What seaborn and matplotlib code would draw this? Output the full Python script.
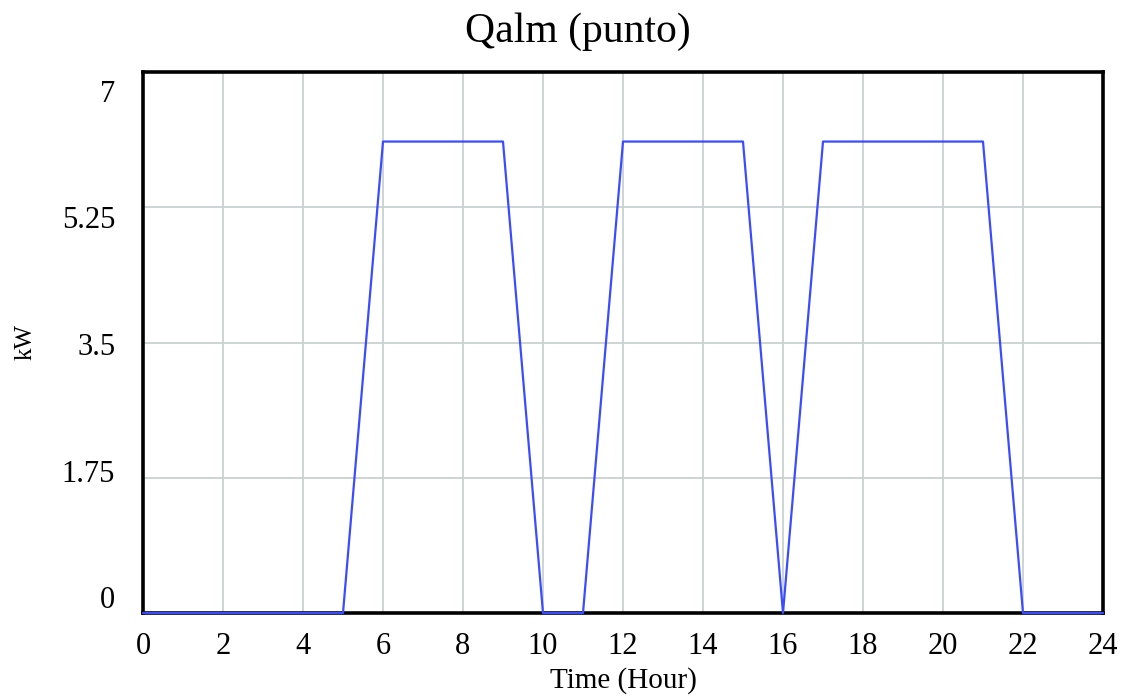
# %%
# Import libraries
import matplotlib
matplotlib.use('Agg')
from matplotlib import pyplot as plt
from matplotlib.transforms import ScaledTranslation
import seaborn as sns
import numpy as np

# %%
# Data (hourly values, kW)
hours = [0, 1, 2, 3, 4, 5, 6, 7, 8, 9, 10, 11, 12,
         13, 14, 15, 16, 17, 18, 19, 20, 21, 22, 23, 24]
qalm = [0, 0, 0, 0, 0, 0, 6.1, 6.1, 6.1, 6.1, 0, 0, 6.1,
        6.1, 6.1, 6.1, 0, 6.1, 6.1, 6.1, 6.1, 6.1, 0, 0, 0]
x_ticks = [0, 2, 4, 6, 8, 10, 12, 14, 16, 18, 20, 22, 24]
y_ticks = [0, 1.75, 3.5, 5.25, 7]
y_labels = ['0', '1.75', '3.5', '5.25', '7']

# %%
sns.set_style('white')
plt.rcParams['font.family'] = ['Liberation Serif', 'DejaVu Serif']
plt.rcParams['text.color'] = 'black'
plt.rcParams['axes.labelcolor'] = 'black'
plt.rcParams['xtick.color'] = 'black'
plt.rcParams['ytick.color'] = 'black'

fig = plt.figure(figsize=(11.26, 7), dpi=100)
ax = fig.add_axes([143/1126, 87/700, 960/1126, 541/700])

# grid first, then the line on top
ax.set_xticks(x_ticks)
ax.set_yticks(y_ticks)
ax.set_yticklabels(y_labels)
ax.grid(True, color='#c9d1d1', linewidth=1.3)
ax.set_axisbelow(True)

sns.lineplot(x=hours, y=qalm, ax=ax, color='#3a4cff', linewidth=1.6,
             clip_on=False, zorder=5)

ax.set_xlim(0, 24)
ax.set_ylim(0, 7)

for side in ['left', 'right', 'top', 'bottom']:
    ax.spines[side].set_color('black')
    ax.spines[side].set_linewidth(2.6)

ax.tick_params(axis='both', length=0, labelsize=22)
ax.tick_params(axis='x', pad=14)
ax.tick_params(axis='y', pad=20)

# Vensim style: y labels squeezed inwards from the ends
offsets_px = [-16, -7, 1.5, 10, 19]
for lab, off in zip(ax.get_yticklabels(), offsets_px):
    lab.set_transform(lab.get_transform() + ScaledTranslation(0, -off/100, fig.dpi_scale_trans))

ax.set_xlabel('Time (Hour)', fontsize=21, labelpad=4)
ax.set_ylabel('kW', fontsize=18, labelpad=18)

fig.text(578/1126, 1 - 42/700, 'Qalm (punto)', fontsize=30, ha='center', va='baseline')

fig.savefig('out.png', dpi=100)
